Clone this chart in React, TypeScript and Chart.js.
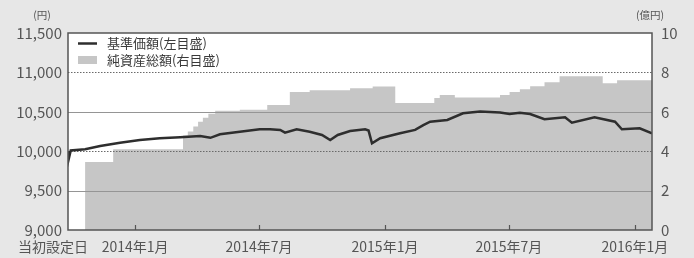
import { useEffect, useRef } from "react";
import { Chart, registerables } from "chart.js";
Chart.register(...registerables);

const FONT = '"Noto Sans CJK JP", "Noto Sans", sans-serif';

const navDates = [
  "2013-09-25", "2013-09-26", "2013-09-29", "2013-10-20", "2013-11-11", "2013-12-10",
  "2014-01-08", "2014-02-06", "2014-03-08", "2014-04-06", "2014-04-21", "2014-05-05",
  "2014-06-03", "2014-07-02", "2014-07-17", "2014-08-01", "2014-08-08", "2014-08-25",
  "2014-09-13", "2014-10-01", "2014-10-13", "2014-10-24", "2014-11-11", "2014-12-03",
  "2014-12-08", "2014-12-13", "2014-12-25", "2015-01-23", "2015-02-14", "2015-02-26",
  "2015-03-08", "2015-04-02", "2015-04-25", "2015-05-20", "2015-06-18",
  "2015-07-02", "2015-07-17", "2015-08-01", "2015-08-22", "2015-09-21", "2015-10-01",
  "2015-11-03", "2015-12-03", "2015-12-13", "2016-01-08", "2016-01-26",
];
const navValues = [
  10000, 9900, 10010, 10024, 10066, 10108,
  10142, 10164, 10176, 10193, 10170, 10214,
  10247, 10278, 10280, 10269, 10235, 10278,
  10247, 10206, 10142, 10206, 10256, 10278,
  10262, 10100, 10164, 10227, 10270, 10330,
  10374, 10396, 10481, 10505, 10490,
  10472, 10489, 10472, 10405, 10431, 10362,
  10431, 10374, 10278, 10291, 10225,
];

const assetDates = [
  "2013-09-25", "2013-10-20", "2013-11-30", "2014-03-12", "2014-03-19", "2014-03-27",
  "2014-04-03", "2014-04-10", "2014-04-18", "2014-04-28", "2014-06-03", "2014-07-13",
  "2014-08-15", "2014-09-13", "2014-11-11", "2014-12-14", "2015-01-16", "2015-03-14",
  "2015-03-22", "2015-04-13", "2015-06-18", "2015-07-02", "2015-07-17", "2015-08-01",
  "2015-08-22", "2015-09-13", "2015-11-15", "2015-12-06", "2016-01-26",
];
const assetValues = [
  0, 3.45, 4.1, 4.8, 5.0, 5.25,
  5.5, 5.7, 5.9, 6.05, 6.1, 6.35,
  7.0, 7.1, 7.2, 7.28, 6.45, 6.7,
  6.85, 6.72, 6.85, 7.0, 7.15, 7.3,
  7.5, 7.8, 7.45, 7.6, 7.6,
];

const leftTicks = [9000, 9500, 10000, 10500, 11000, 11500];
const rightTicks = [0, 2, 4, 6, 8, 10];
const xTickDates = ["2014-01-01", "2014-07-01", "2015-01-01", "2015-07-01", "2016-01-01"];
const xTickLabels = ["2014年1月", "2014年7月", "2015年1月", "2015年7月", "2016年1月"];
const startDate = "2013-09-25";
const endDate = "2016-01-26";
const startLabel = "当初設定日";
const seriesLabels = ["基準価額(左目盛)", "純資産総額(右目盛)"];
const leftUnit = "(円)";
const rightUnit = "(億円)";

const dayNum = (s: string) =>
  (Date.parse(s + "T00:00:00Z") - Date.parse("2014-01-01T00:00:00Z")) / 86400000;

const BG = "#e7e7e7";
const AREA = "#c6c6c6";
const LINE = "#2e2e2e";
const TEXT = "#555555";

const decorPlugin = {
  id: "decor",
  beforeDraw(chart: any) {
    const { ctx, chartArea: a } = chart;
    ctx.save();
    ctx.fillStyle = BG;
    ctx.fillRect(0, 0, chart.width, chart.height);
    ctx.fillStyle = "#ffffff";
    ctx.fillRect(a.left, a.top, a.right - a.left, a.bottom - a.top);
    ctx.restore();
  },
  afterDatasetDraw(chart: any, args: any) {
    if (args.index !== 1) return;
    const { ctx, chartArea: a } = chart;
    const y = chart.scales.y;
    ctx.save();
    leftTicks.forEach((v) => {
      if (v === leftTicks[0] || v === leftTicks[leftTicks.length - 1]) return;
      const py = Math.round(y.getPixelForValue(v)) + 0.5;
      ctx.beginPath();
      if (v % 1000 === 0) {
        ctx.setLineDash([1.5, 1.5]);
        ctx.strokeStyle = "#6a6a6a";
      } else {
        ctx.setLineDash([]);
        ctx.strokeStyle = "#959595";
      }
      ctx.lineWidth = 1;
      ctx.moveTo(a.left, py);
      ctx.lineTo(a.right, py);
      ctx.stroke();
    });
    ctx.restore();
  },
  afterDraw(chart: any) {
    const { ctx, chartArea: a } = chart;
    const x = chart.scales.x;
    ctx.save();
    ctx.strokeStyle = "#555555";
    ctx.lineWidth = 1.5;
    ctx.setLineDash([]);
    ctx.strokeRect(a.left, a.top, a.right - a.left, a.bottom - a.top);
    ctx.lineWidth = 1.2;
    xTickDates.forEach((d) => {
      const px = Math.round(x.getPixelForValue(dayNum(d))) + 0.5;
      ctx.beginPath();
      ctx.moveTo(px, a.bottom);
      ctx.lineTo(px, a.bottom - 5);
      ctx.stroke();
    });
    ctx.fillStyle = TEXT;
    ctx.font = `14px ${FONT}`;
    ctx.textAlign = "center";
    ctx.textBaseline = "middle";
    ctx.fillText(startLabel, x.getPixelForValue(dayNum(startDate)) - 15, 247);
    ctx.font = `10.5px ${FONT}`;
    ctx.fillText(leftUnit, 42, 15);
    ctx.fillText(rightUnit, 650, 15);
    const lx = 78;
    ctx.strokeStyle = LINE;
    ctx.lineWidth = 2.5;
    ctx.beginPath();
    ctx.moveTo(lx, 43.5);
    ctx.lineTo(lx + 19, 43.5);
    ctx.stroke();
    ctx.fillStyle = AREA;
    ctx.fillRect(lx, 56, 19, 8);
    ctx.fillStyle = "#3a3a3a";
    ctx.font = `13px ${FONT}`;
    ctx.textAlign = "left";
    ctx.fillText(seriesLabels[0], 107, 43.5);
    ctx.fillText(seriesLabels[1], 107, 60.5);
    ctx.restore();
  },
};

export default function App() {
  const ref = useRef<HTMLCanvasElement>(null);
  useEffect(() => {
    if (!ref.current) return;
    Chart.defaults.font.family = FONT;
    const chart = new Chart(ref.current, {
      type: "line",
      data: {
        datasets: [
          {
            label: seriesLabels[0],
            data: navDates.map((d, i) => ({ x: dayNum(d), y: navValues[i] })),
            borderColor: LINE,
            borderWidth: 2.5,
            pointRadius: 0,
            tension: 0,
            fill: false,
            yAxisID: "y",
            order: 0,
          },
          {
            label: seriesLabels[1],
            data: assetDates.map((d, i) => ({ x: dayNum(d), y: assetValues[i] })),
            borderWidth: 0,
            borderColor: AREA,
            backgroundColor: AREA,
            pointRadius: 0,
            stepped: "before",
            fill: "origin",
            yAxisID: "y1",
            order: 1,
          },
        ],
      },
      options: {
        responsive: false,
        animation: false,
        layout: { padding: { top: 33, left: 0, right: 0, bottom: 0 } },
        plugins: { legend: { display: false }, tooltip: { enabled: false } },
        scales: {
          x: {
            type: "linear",
            min: dayNum(startDate),
            max: dayNum(endDate),
            grid: { display: false, drawTicks: false },
            border: { display: false },
            afterBuildTicks: (s: any) => {
              s.ticks = [startDate, ...xTickDates].map((d) => ({ value: dayNum(d) }));
            },
            afterFit: (s: any) => {
              s.height = 28;
            },
            ticks: {
              autoSkip: false,
              maxRotation: 0,
              padding: 8,
              color: TEXT,
              font: { size: 14, family: FONT },
              callback: (_v: any, i: number) => (i === 0 ? "" : xTickLabels[i - 1]),
            },
          },
          y: {
            position: "left",
            min: leftTicks[0],
            max: leftTicks[leftTicks.length - 1],
            grid: { display: false, drawTicks: false },
            border: { display: false },
            afterBuildTicks: (s: any) => {
              s.ticks = leftTicks.map((v) => ({ value: v }));
            },
            afterFit: (s: any) => {
              s.width = 68;
            },
            ticks: {
              padding: 6,
              color: TEXT,
              font: { size: 15, family: FONT },
              callback: (v: any) => Number(v).toLocaleString("en-US"),
            },
          },
          y1: {
            position: "right",
            min: rightTicks[0],
            max: rightTicks[rightTicks.length - 1],
            grid: { display: false, drawTicks: false },
            border: { display: false },
            afterBuildTicks: (s: any) => {
              s.ticks = rightTicks.map((v) => ({ value: v }));
            },
            afterFit: (s: any) => {
              s.width = 42;
            },
            ticks: {
              padding: 9,
              color: TEXT,
              font: { size: 15, family: FONT },
            },
          },
        },
      },
      plugins: [decorPlugin],
    });
    return () => chart.destroy();
  }, []);
  return (
    <div style={{ position: "fixed", left: 0, top: 0, width: 694, height: 258 }}>
      <canvas ref={ref} width={694} height={258} style={{ display: "block" }} />
    </div>
  );
}
